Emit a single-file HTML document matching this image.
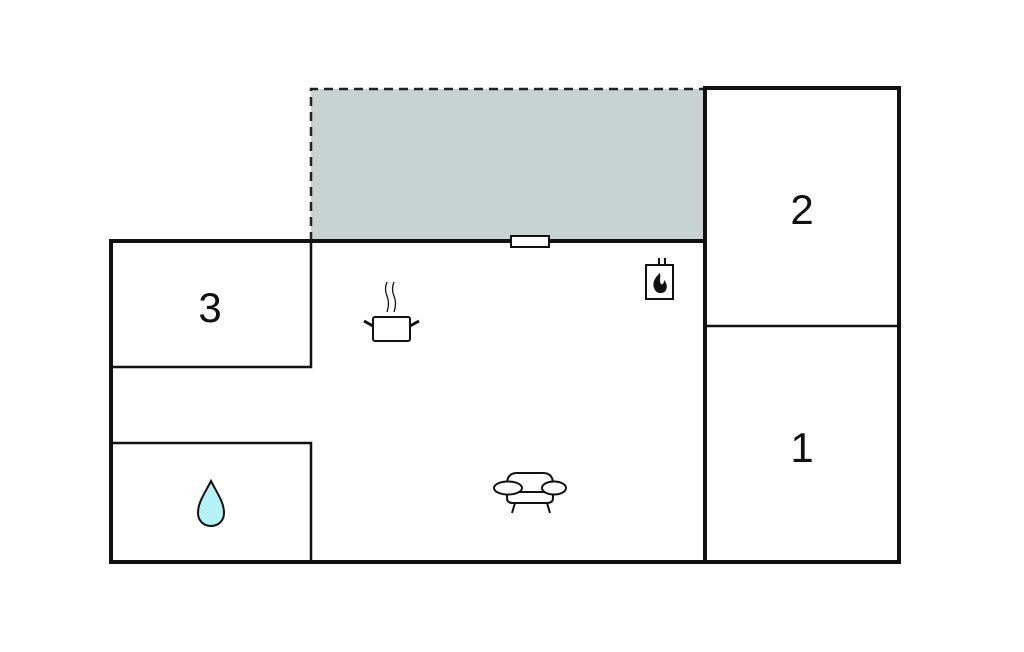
<!DOCTYPE html>
<html><head><style>body{margin:0;background:#fff}svg{display:block}</style></head><body>
<svg width="1024" height="652" viewBox="0 0 1024 652" xmlns="http://www.w3.org/2000/svg">
<rect x="311" y="89" width="394" height="152" fill="#c8d2d1"/>
<path d="M311 241 V89 H705" fill="none" stroke="#222" stroke-width="2.5" stroke-dasharray="9,6"/>
<g fill="none" stroke="#111">
<rect x="111" y="241" width="594" height="321" stroke-width="4"/>
<rect x="705" y="88" width="194" height="474" stroke-width="4"/>
<line x1="705" y1="241" x2="705" y2="88" stroke-width="4"/>
<g stroke-width="2.5">
<line x1="705" y1="326" x2="899" y2="326"/>
<path d="M111 367 H311 V241"/>
<path d="M111 443 H311 V562"/>
</g>
</g>
<rect x="511" y="236" width="38" height="11" fill="#fff" stroke="#111" stroke-width="2"/>
<g font-family="Liberation Sans, sans-serif" font-size="42" text-anchor="middle" fill="#111">
<text x="210" y="322">3</text>
<text x="802" y="224">2</text>
<text x="802" y="462">1</text>
</g>
<!-- pot -->
<g fill="none" stroke="#111" stroke-width="2">
<rect x="373" y="317" width="37" height="24" rx="2" fill="#fff"/>
<line x1="364" y1="321" x2="373" y2="326" stroke-width="3"/>
<line x1="419" y1="321" x2="410" y2="326" stroke-width="3"/>
<path d="M387 282 q-3 7 0 14 q3 7 0 16" stroke-width="1.3"/>
<path d="M394 282 q-3 7 0 14 q3 7 0 16" stroke-width="1.3"/>
</g>
<!-- heater -->
<g stroke="#111" stroke-width="2" fill="none">
<rect x="646" y="265" width="27" height="34" fill="#fff"/>
<line x1="659" y1="258" x2="659" y2="265"/>
<line x1="665" y1="258" x2="665" y2="265"/>
</g>
<path d="M660 273 c-7 6 -8 12 -5 17 c2 4 9 4 11 0 c2 -4 0 -8 -2 -10 c0 4 -2 5 -3 4 c-2 -3 0 -7 -1 -11z" fill="#111"/>
<!-- drop -->
<path d="M211 481 C205 493 198 502 198 513 C198 521 204 526 211 526 C218 526 224 521 224 513 C224 502 217 493 211 481Z" fill="#b4f2f6" stroke="#111" stroke-width="2"/>
<!-- sofa -->
<g fill="#fff" stroke="#111" stroke-width="2">
<path d="M507 484 q0 -11 10 -11 h26 q10 0 10 11 v14 q0 5 -6 5 h-34 q-6 0 -6 -5z"/>
<line x1="513" y1="492" x2="549" y2="492"/>
<ellipse cx="508" cy="488" rx="14" ry="6.5"/>
<ellipse cx="554" cy="488" rx="12" ry="6.5"/>
<line x1="515" y1="503" x2="512" y2="513" fill="none"/>
<line x1="547" y1="503" x2="550" y2="513" fill="none"/>
</g>
</svg>
</body></html>
